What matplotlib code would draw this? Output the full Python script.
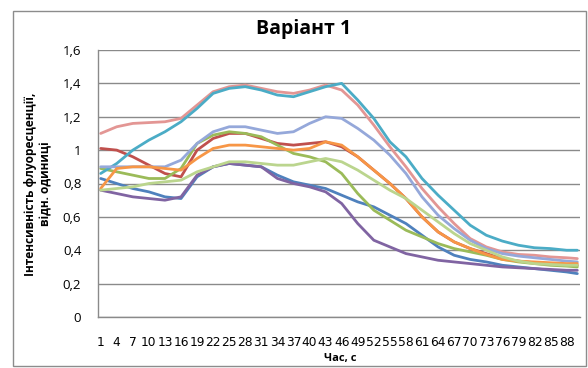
import matplotlib
matplotlib.use("Agg")
import matplotlib.pyplot as plt
from matplotlib.patches import Rectangle

plt.rcParams['font.family'] = ['Open Sans', 'DejaVu Sans']

# time points (s), every 3rd category plus the last one
t = list(range(1, 89, 3)) + [90]

blue = [0.83, 0.80, 0.77, 0.75, 0.72, 0.71, 0.84, 0.90, 0.92, 0.91, 0.90, 0.85, 0.81, 0.79, 0.77,
        0.73, 0.69, 0.66, 0.61, 0.56, 0.49, 0.42, 0.37, 0.345, 0.33, 0.31, 0.30, 0.29, 0.28, 0.27, 0.26]
red = [1.01, 1.00, 0.96, 0.91, 0.86, 0.84, 1.00, 1.07, 1.10, 1.10, 1.07, 1.04, 1.03, 1.04, 1.05,
       1.02, 0.96, 0.88, 0.80, 0.71, 0.60, 0.51, 0.45, 0.41, 0.38, 0.35, 0.335, 0.325, 0.32, 0.315, 0.31]
green = [0.89, 0.87, 0.85, 0.83, 0.83, 0.89, 1.04, 1.09, 1.11, 1.10, 1.08, 1.03, 0.98, 0.96, 0.93,
         0.86, 0.74, 0.64, 0.58, 0.52, 0.48, 0.44, 0.41, 0.39, 0.37, 0.345, 0.33, 0.32, 0.31, 0.305, 0.30]
purple = [0.76, 0.74, 0.72, 0.71, 0.70, 0.72, 0.85, 0.90, 0.92, 0.91, 0.90, 0.83, 0.80, 0.78, 0.75,
          0.68, 0.56, 0.46, 0.42, 0.38, 0.36, 0.34, 0.33, 0.32, 0.31, 0.30, 0.295, 0.29, 0.285, 0.28, 0.28]
teal = [0.86, 0.92, 1.00, 1.06, 1.11, 1.17, 1.25, 1.34, 1.37, 1.38, 1.36, 1.33, 1.32, 1.35, 1.38,
        1.40, 1.30, 1.19, 1.05, 0.96, 0.83, 0.73, 0.64, 0.55, 0.49, 0.455, 0.43, 0.415, 0.41, 0.40, 0.40]
orange = [0.77, 0.89, 0.90, 0.90, 0.89, 0.88, 0.95, 1.01, 1.03, 1.03, 1.02, 1.01, 1.00, 1.01, 1.05,
          1.03, 0.96, 0.88, 0.80, 0.71, 0.60, 0.51, 0.45, 0.41, 0.375, 0.345, 0.335, 0.33, 0.325, 0.32, 0.32]
lavender = [0.90, 0.90, 0.90, 0.90, 0.90, 0.94, 1.04, 1.11, 1.14, 1.14, 1.12, 1.10, 1.11, 1.16, 1.20,
            1.19, 1.13, 1.06, 0.97, 0.86, 0.72, 0.61, 0.53, 0.46, 0.41, 0.38, 0.365, 0.355, 0.345, 0.335, 0.33]
pink = [1.10, 1.14, 1.16, 1.165, 1.17, 1.19, 1.27, 1.35, 1.38, 1.39, 1.37, 1.35, 1.34, 1.36, 1.39,
        1.36, 1.27, 1.15, 1.02, 0.90, 0.77, 0.66, 0.56, 0.47, 0.42, 0.39, 0.375, 0.37, 0.36, 0.355, 0.35]
light_green = [0.76, 0.77, 0.78, 0.80, 0.81, 0.82, 0.87, 0.90, 0.93, 0.93, 0.92, 0.91, 0.91, 0.93, 0.95,
               0.93, 0.88, 0.82, 0.76, 0.71, 0.64, 0.57, 0.50, 0.44, 0.40, 0.36, 0.335, 0.32, 0.315, 0.31, 0.31]

series = [
    (blue, "#4F81BD"),
    (red, "#C0504D"),
    (green, "#9BBB59"),
    (purple, "#8064A2"),
    (pink, "#E39694"),
    (teal, "#4BACC6"),
    (lavender, "#95A8DA"),
    (orange, "#F79646"),
    (light_green, "#BBD58E"),
]

xtick_vals = list(range(1, 89, 3))
xtick_labels = [str(v) for v in xtick_vals]
ytick_vals = [0, 0.2, 0.4, 0.6, 0.8, 1.0, 1.2, 1.4, 1.6]
ytick_labels = ["0", "0,2", "0,4", "0,6", "0,8", "1", "1,2", "1,4", "1,6"]

fig = plt.figure(figsize=(5.88, 3.68), dpi=100)
ax = fig.add_axes([98 / 588, 1 - 317 / 368, (580 - 98) / 588, (317 - 50) / 368])

for vals, col in series:
    ax.plot(t, vals, color=col, lw=2.0, solid_capstyle='round')

ax.set_xlim(0.5, 90.5)
ax.set_ylim(0, 1.6)
ax.set_xticks(xtick_vals)
ax.set_xticklabels(xtick_labels, fontsize=8.8, family='DejaVu Sans')
ax.set_yticks(ytick_vals)
ax.set_yticklabels(ytick_labels, fontsize=9.5)
ax.tick_params(axis='x', length=0, pad=14)
ax.tick_params(axis='y', length=0, pad=12)
ax.yaxis.grid(True, color='#8a8a8a', lw=1)
ax.set_axisbelow(True)
for s in ['top', 'right']:
    ax.spines[s].set_visible(False)
for s in ['left', 'bottom']:
    ax.spines[s].set_color('#8a8a8a')
    ax.spines[s].set_linewidth(1)

fig.text(304 / 588, 1 - 29 / 368, "Варіант 1", ha='center', va='center',
         fontsize=14, fontweight='bold')
fig.text(38 / 588, 1 - 184 / 368, "Інтенсивність флуоресценції,\nвідн. одиниці", ha='center',
         va='center', rotation=90, fontsize=8.6, fontweight='bold', linespacing=1.25)
fig.text(340 / 588, 1 - 358 / 368, "Час, с", ha='center', va='center',
         fontsize=8, fontweight='bold')

fig.patches.append(Rectangle((13 / 588, 2 / 368), 573 / 588, 355 / 368, transform=fig.transFigure,
                             fill=False, edgecolor='#8c8c8c', lw=1))

fig.savefig("out.png", dpi=100)
